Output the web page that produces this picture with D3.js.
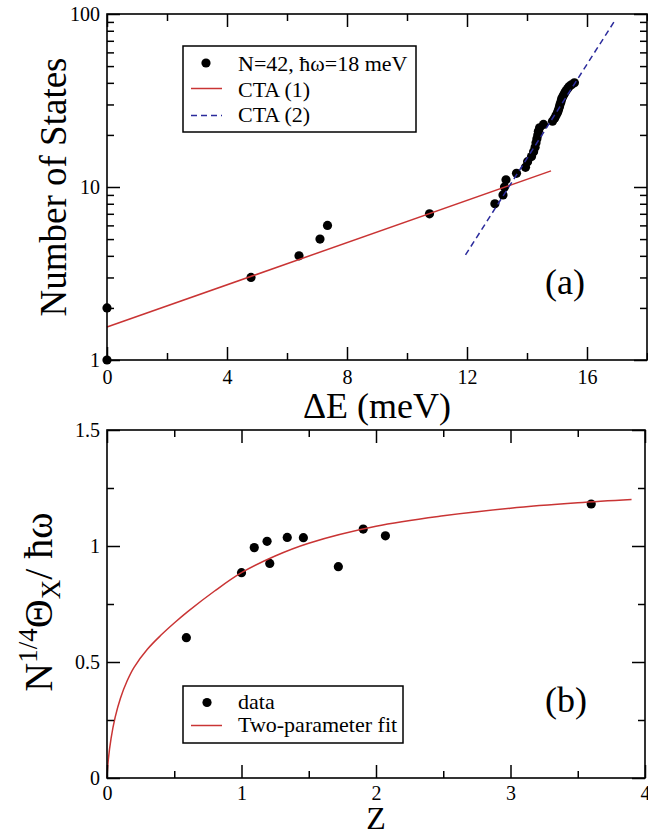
<!DOCTYPE html>
<html>
<head>
<meta charset="utf-8">
<script src="https://cdn.jsdelivr.net/npm/d3@7"></script>
</head>
<body style="margin:0;background:#fff">
<svg id="fig" width="648" height="831" style="display:block"></svg>
<script>
const SERIF = '"Liberation Serif"';

// ---- Panel (a): cumulative number of states vs excitation energy ----
const stateEnergies = [0, 0, 4.8, 6.4, 7.1, 7.35, 10.75, 12.93, 13.2, 13.25,
  13.3, 13.65, 13.95, 14.02, 14.15, 14.22, 14.27, 14.3, 14.33, 14.36,
  14.38, 14.42, 14.55, 14.85, 14.92, 14.97, 15.02, 15.05, 15.08, 15.1,
  15.13, 15.15, 15.18, 15.22, 15.26, 15.3, 15.35, 15.4, 15.48, 15.58];
const stateCounts = [1, 2, 3, 4, 5, 6, 7, 8, 9, 10,
  11, 12, 13, 14, 15, 16, 17, 18, 19, 20,
  21, 22, 23, 24, 25, 26, 27, 28, 29, 30,
  31, 32, 33, 34, 35, 36, 37, 38, 39, 40];
// CTA fits are straight lines on the log axis: endpoints only
const cta1Energy = [0, 14.8];
const cta1Count = [1.55, 12.4];
const cta2Energy = [11.95, 16.9];
const cta2Count = [4.05, 90];
const aXTicks = [0, 4, 8, 12, 16];
const aXMinor = [2, 6, 10, 14, 18];
const aYTicks = [1, 10, 100];
const aYMinor = [2, 3, 4, 5, 6, 7, 8, 9, 20, 30, 40, 50, 60, 70, 80, 90];

// ---- Panel (b): scaled temperature vs Z ----
const zData = [0.59, 1.0, 1.095, 1.19, 1.21, 1.34, 1.46, 1.72, 1.905, 2.07, 3.6];
const thetaData = [0.605, 0.885, 0.993, 1.02, 0.925, 1.037, 1.036, 0.911, 1.073, 1.044, 1.181];
const fitZ = [0, 0.01, 0.03, 0.06, 0.1, 0.15, 0.2, 0.3, 0.4, 0.5, 0.6, 0.8, 1.0, 1.25, 1.5, 2.0, 2.5, 3.0, 3.5, 3.9];
const fitTheta = [0, 0.08, 0.17, 0.26, 0.344, 0.419, 0.476, 0.555, 0.615, 0.668, 0.717, 0.806, 0.885, 0.957, 1.012, 1.085, 1.13, 1.163, 1.186, 1.2];
const bXTicks = [0, 1, 2, 3, 4];
const bXMinor = [0.5, 1.5, 2.5, 3.5];
const bYTicks = [0, 0.5, 1, 1.5];
const bYMinor = [0.25, 0.75, 1.25];

const RED = "#c93434";
const BLUE = "#2b2b9c";
const svg = d3.select("#fig");

const serif = (sel, size) => sel.style("font-family", SERIF).attr("font-size", size).attr("fill", "#000");

function frameAxes(g, x, y, opts) {
  const [x0, x1] = x.range();
  const [y0, y1] = y.range(); // y0 bottom, y1 top
  const MAJ = 13, MIN = 7;
  const style = sel => {
    sel.attr("font-family", null).attr("font-size", null);
    sel.select(".domain").remove();
    sel.selectAll("line").attr("stroke", "#000").attr("stroke-width", 1.5);
    sel.selectAll("text").call(serif, 20);
  };
  // bottom
  g.append("g").attr("transform", `translate(0,${y0})`)
    .call(d3.axisBottom(x).tickValues(opts.xTicks).tickSize(-MAJ).tickPadding(opts.xPad).tickFormat(opts.xFmt)).call(style);
  g.append("g").attr("transform", `translate(0,${y0})`)
    .call(d3.axisBottom(x).tickValues(opts.xMinor).tickSize(-MIN).tickFormat("")).call(style);
  // top mirror
  g.append("g").attr("transform", `translate(0,${y1})`)
    .call(d3.axisTop(x).tickValues(opts.xTicks).tickSize(-MAJ).tickFormat("")).call(style);
  g.append("g").attr("transform", `translate(0,${y1})`)
    .call(d3.axisTop(x).tickValues(opts.xMinor).tickSize(-MIN).tickFormat("")).call(style);
  // left
  g.append("g").attr("transform", `translate(${x0},0)`)
    .call(d3.axisLeft(y).tickValues(opts.yTicks).tickSize(-MAJ).tickPadding(7).tickFormat(opts.yFmt)).call(style);
  g.append("g").attr("transform", `translate(${x0},0)`)
    .call(d3.axisLeft(y).tickValues(opts.yMinor).tickSize(-MIN).tickFormat("")).call(style);
  // right mirror
  g.append("g").attr("transform", `translate(${x1},0)`)
    .call(d3.axisRight(y).tickValues(opts.yTicks).tickSize(-MAJ).tickFormat("")).call(style);
  g.append("g").attr("transform", `translate(${x1},0)`)
    .call(d3.axisRight(y).tickValues(opts.yMinor).tickSize(-MIN).tickFormat("")).call(style);
  // frame
  g.append("rect").attr("x", x0).attr("y", y1).attr("width", x1 - x0).attr("height", y0 - y1)
    .attr("fill", "none").attr("stroke", "#000").attr("stroke-width", 1.6);
}

function draw() {
  svg.selectAll("*").remove();

  // ================= Panel (a) =================
  const xA = d3.scaleLinear().domain([0, 18]).range([107, 647]);
  const yA = d3.scaleLog().domain([1, 100]).range([360, 14]);
  const gA = svg.append("g");

  gA.append("g").selectAll("circle")
    .data(d3.zip(stateEnergies, stateCounts))
    .join("circle")
    .attr("cx", d => xA(d[0])).attr("cy", d => yA(d[1])).attr("r", 4.6).attr("fill", "#000");

  const lineA = d3.line().x(d => xA(d[0])).y(d => yA(d[1]));
  gA.append("path").datum(d3.zip(cta1Energy, cta1Count)).attr("d", lineA)
    .attr("fill", "none").attr("stroke", RED).attr("stroke-width", 1.5);
  gA.append("path").datum(d3.zip(cta2Energy, cta2Count)).attr("d", lineA)
    .attr("fill", "none").attr("stroke", BLUE).attr("stroke-width", 1.5).attr("stroke-dasharray", "6,4");

  frameAxes(gA, xA, yA, {
    xTicks: aXTicks, xMinor: aXMinor, xPad: 10, xFmt: d3.format("d"),
    yTicks: aYTicks, yMinor: aYMinor, yFmt: d3.format("d")
  });

  // legend (a)
  const legA = gA.append("g");
  legA.append("rect").attr("x", 183).attr("y", 46).attr("width", 233).attr("height", 86)
    .attr("fill", "#fff").attr("stroke", "#000").attr("stroke-width", 1.5);
  legA.append("circle").attr("cx", 206).attr("cy", 63).attr("r", 4.6).attr("fill", "#000");
  legA.append("line").attr("x1", 191).attr("x2", 222).attr("y1", 88.5).attr("y2", 88.5)
    .attr("stroke", RED).attr("stroke-width", 1.5);
  legA.append("line").attr("x1", 191).attr("x2", 222).attr("y1", 115.5).attr("y2", 115.5)
    .attr("stroke", BLUE).attr("stroke-width", 1.5).attr("stroke-dasharray", "6,4");
  const legAText = ["N=42, ħω=18 meV", "CTA (1)", "CTA (2)"];
  legA.selectAll("text.lab").data(legAText).join("text")
    .attr("x", 238).attr("y", (d, i) => 71 + i * 25.5)
    .call(serif, 22).text(d => d);

  gA.append("text").attr("x", 545).attr("y", 294).call(serif, 36).text("(a)");

  gA.append("text").attr("transform", "translate(66,187) rotate(-90)")
    .attr("text-anchor", "middle").call(serif, 37).text("Number of States");
  gA.append("text").attr("x", 377).attr("y", 418)
    .attr("text-anchor", "middle").call(serif, 36).text("ΔE (meV)");

  // ================= Panel (b) =================
  const xB = d3.scaleLinear().domain([0, 4]).range([107, 645]);
  const yB = d3.scaleLinear().domain([0, 1.5]).range([778, 430]);
  const gB = svg.append("g");

  gB.append("g").selectAll("circle")
    .data(d3.zip(zData, thetaData))
    .join("circle")
    .attr("cx", d => xB(d[0])).attr("cy", d => yB(d[1])).attr("r", 4.6).attr("fill", "#000");

  gB.append("path").datum(d3.zip(fitZ, fitTheta))
    .attr("d", d3.line().x(d => xB(d[0])).y(d => yB(d[1])).curve(d3.curveCatmullRom.alpha(0.5)))
    .attr("fill", "none").attr("stroke", RED).attr("stroke-width", 1.5);

  frameAxes(gB, xB, yB, {
    xTicks: bXTicks, xMinor: bXMinor, xPad: 8, xFmt: d3.format("d"),
    yTicks: bYTicks, yMinor: bYMinor, yFmt: d => String(d)
  });

  // legend (b)
  const legB = gB.append("g");
  legB.append("rect").attr("x", 183).attr("y", 686).attr("width", 220).attr("height", 57)
    .attr("fill", "#fff").attr("stroke", "#000").attr("stroke-width", 1.5);
  legB.append("circle").attr("cx", 207).attr("cy", 702.5).attr("r", 4.6).attr("fill", "#000");
  legB.append("line").attr("x1", 191).attr("x2", 222).attr("y1", 725.5).attr("y2", 725.5)
    .attr("stroke", RED).attr("stroke-width", 1.5);
  const legBText = ["data", "Two-parameter fit"];
  legB.selectAll("text.lab").data(legBText).join("text")
    .attr("x", 238).attr("y", (d, i) => 709 + i * 23)
    .call(serif, 22).text(d => d);

  gB.append("text").attr("x", 545).attr("y", 712).call(serif, 36).text("(b)");

  // y label: N^{1/4} Θ_X / ħω
  const yl = gB.append("text").attr("transform", "translate(52,602) rotate(-90)")
    .attr("text-anchor", "middle").call(serif, 40);
  yl.append("tspan").text("N");
  yl.append("tspan").attr("font-size", 27).attr("dy", -15).text("1/4");
  yl.append("tspan").attr("dy", 15).text("Θ");
  yl.append("tspan").attr("font-size", 27).attr("dy", 8).text("X");
  yl.append("tspan").attr("dy", -8).text("/ ħω");

  gB.append("text").attr("x", 376).attr("y", 829)
    .attr("text-anchor", "middle").call(serif, 32).text("Z");
}

draw();
document.fonts.ready.then(draw);
</script>
</body>
</html>
